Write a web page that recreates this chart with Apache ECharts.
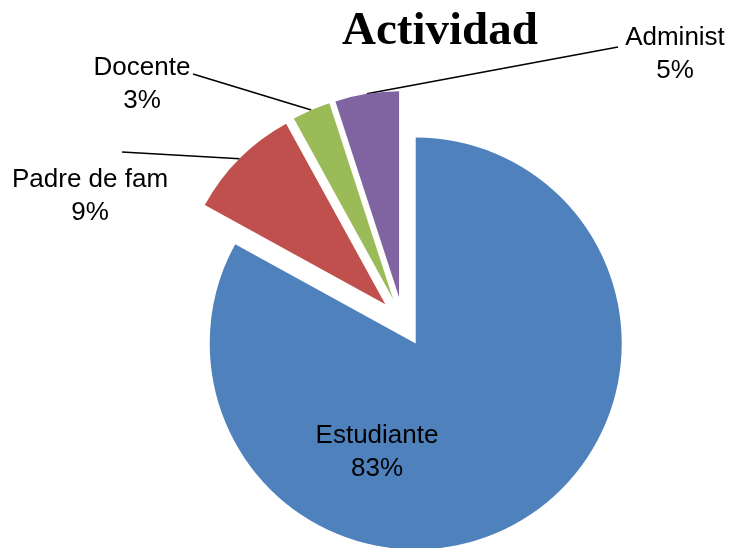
<!DOCTYPE html>
<html>
<head>
<meta charset="utf-8">
<script src="https://cdn.jsdelivr.net/npm/echarts@6/dist/echarts.min.js"></script>
<style>
html, body { margin: 0; padding: 0; background: #fff; }
#chart { width: 729px; height: 548px; }
</style>
</head>
<body>
<div id="chart"></div>
<script>
const categories = ['Estudiante', 'Padre de fam', 'Docente', 'Administ'];
const values = [83, 9, 3, 5];
const colors = ['#4F81BD', '#C0504D', '#9BBB59', '#8064A2'];

// pie geometry: every slice is pulled out a bit (Excel "exploded" pie)
const center = [403, 322], radius = 206, explode = 25;
// label block centres and where each leader line stops
const labelPos = [[377, 452], [90, 196], [142, 84], [675, 54]];
const lineEnd = [null, [122, 152], [193, 74], [618, 47]];

const total = values.reduce((a, b) => a + b, 0);

function midAngle(i) {
    let before = 0;
    for (let k = 0; k < i; k++) before += values[k];
    return (90 - (before + values[i] / 2) / total * 360) * Math.PI / 180;
}

// centre of slice i once it has been pulled out
function sliceCenter(i) {
    const a = midAngle(i);
    return [center[0] + Math.cos(a) * explode, center[1] - Math.sin(a) * explode];
}

// middle of the outer arc of slice i
function edgePoint(i) {
    const a = midAngle(i), c = sliceCenter(i);
    return [c[0] + Math.cos(a) * radius, c[1] - Math.sin(a) * radius];
}

// one pie per slice, same data, only slice i painted, so each can sit at its own centre
const series = categories.map((_, i) => ({
    type: 'pie',
    center: sliceCenter(i),
    radius: radius,
    startAngle: 90,
    clockwise: true,
    silent: true,
    avoidLabelOverlap: false,
    emphasis: { disabled: true },
    percentPrecision: 0,
    itemStyle: { borderWidth: 0 },
    label: {
        formatter: '{b}\n{d}%',
        fontFamily: 'Liberation Sans',
        fontSize: 26,
        lineHeight: 33,
        color: '#000',
        align: 'center'
    },
    labelLine: {
        lineStyle: { color: '#000', width: 1.5 }
    },
    labelLayout: function (params) {
        const k = params.dataIndex;
        const out = {
            x: labelPos[k][0],
            y: labelPos[k][1],
            align: 'center',
            verticalAlign: 'middle'
        };
        if (lineEnd[k]) {
            out.labelLinePoints = [edgePoint(k), lineEnd[k], lineEnd[k]];
        }
        return out;
    },
    data: categories.map((name, k) => ({
        name: name,
        value: values[k],
        itemStyle: { color: k === i ? colors[k] : 'rgba(0,0,0,0)' },
        label: { show: k === i },
        labelLine: { show: k === i && k !== 0 }
    }))
}));

const chart = echarts.init(document.getElementById('chart'));
chart.setOption({
    backgroundColor: '#fff',
    animation: false,
    title: {
        text: 'Actividad',
        left: 337,
        top: 3,
        textStyle: {
            fontFamily: 'Liberation Serif',
            fontWeight: 'bold',
            fontSize: 47,
            color: '#000'
        }
    },
    series: series
});
</script>
</body>
</html>
